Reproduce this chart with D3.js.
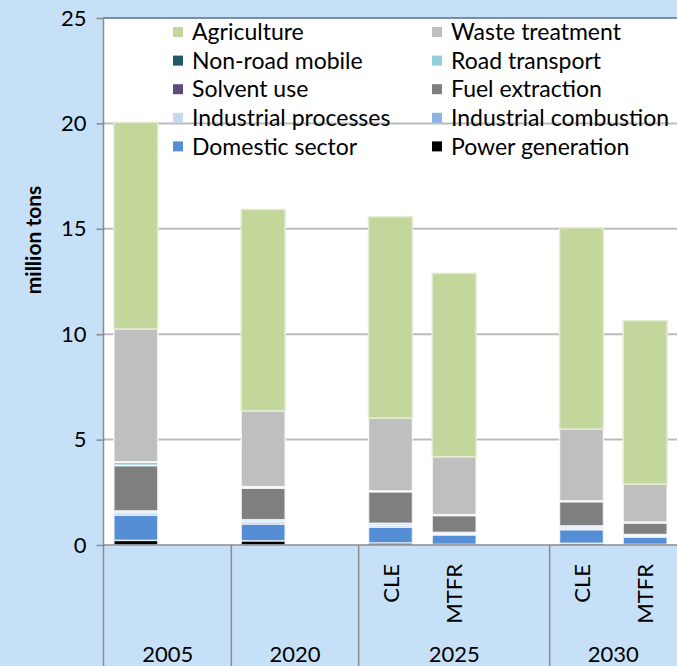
<!DOCTYPE html>
<html><head><meta charset="utf-8">
<script src="https://cdn.jsdelivr.net/npm/d3@7"></script>
<style>
html,body{margin:0;padding:0;background:#c6e0f8;}
svg{display:block;}
text{font-family:"Lato","Open Sans",sans-serif;fill:#000;}
</style></head>
<body><svg id="c" width="677" height="666"></svg>
<script>
// ---- data ----
const slotYears = ["2005","2005","2020","2020","2025","2025","2025","2030","2030"];
const slotScenarios = ["","","","","CLE","MTFR","","CLE","MTFR"];
const seriesNames = ["Power generation","Domestic sector","Industrial combustion","Industrial processes","Fuel extraction","Solvent use","Road transport","Non-road mobile","Waste treatment","Agriculture"];
const seriesColors = ["#000000","#558ed5","#8db3e2","#c6d9f1","#7f7f7f","#604a7b","#92cddc","#215967","#bfbfbf","#c3d69b"];
const powerGeneration     = [0.22,null,0.20,null,0.10,0.03,null,0.08,0.03];
const domesticSector      = [1.20,null,0.80,null,0.75,0.45,null,0.65,0.35];
const industrialCombustion= [0.10,null,0.10,null,0.08,0.05,null,0.08,0.05];
const industrialProcesses = [0.10,null,0.10,null,0.10,0.07,null,0.10,0.07];
const fuelExtraction      = [2.15,null,1.50,null,1.50,0.80,null,1.15,0.55];
const solventUse          = [0.01,null,0.01,null,0.01,0.01,null,0.01,0.01];
const roadTransport       = [0.15,null,0.05,null,0.02,0.02,null,0.02,0.02];
const nonRoadMobile       = [0.02,null,0.01,null,0.01,0.01,null,0.01,0.01];
const wasteTreatment      = [6.30,null,3.60,null,3.45,2.75,null,3.40,1.80];
const agriculture         = [9.80,null,9.55,null,9.55,8.70,null,9.55,7.75];
const yTicks = [0,5,10,15,20,25];
const yTitle = "million tons";

const seriesValues = [powerGeneration,domesticSector,industrialCombustion,industrialProcesses,fuelExtraction,solventUse,roadTransport,nonRoadMobile,wasteTreatment,agriculture];

// ---- layout ----
const svg = d3.select("#c");
const L=104, R=677, T=18, B=545, H=666;
const rows = slotYears.map((yr,i)=>{const o={slot:i,empty:seriesValues[0][i]==null};seriesNames.forEach((n,k)=>o[n]=seriesValues[k][i]||0);return o;});
const x = d3.scaleBand().domain(d3.range(slotYears.length)).range([L,R]).paddingInner(0.31).paddingOuter(0.155);
const y = d3.scaleLinear().domain([0,25]).range([B,T]);
const color = d3.scaleOrdinal(seriesNames, seriesColors);

svg.append("rect").attr("x",0).attr("y",0).attr("width",677).attr("height",H).attr("fill","#c6e0f8");
svg.append("rect").attr("x",L).attr("y",T).attr("width",R-L).attr("height",B-T).attr("fill","#fff");

// gridlines
svg.append("g").selectAll("line").data(yTicks.filter(t=>t>0&&t<25)).join("line")
  .attr("x1",L).attr("x2",R).attr("y1",d=>y(d)).attr("y2",d=>y(d))
  .attr("stroke","#bcbcbc").attr("stroke-width",2);

// bars
const stack = d3.stack().keys(seriesNames);
const layers = stack(rows);
svg.append("g").selectAll("g").data(layers).join("g").attr("fill",d=>color(d.key))
  .attr("stroke",d=>d.key==="Agriculture"?"#e4edd2":"rgba(255,255,255,0.75)").attr("stroke-width",1.5)
  .selectAll("rect").data(d=>d.filter(p=>!p.data.empty && p[1]-p[0]>0)).join("rect")
  .attr("x",d=>x(d.data.slot)).attr("width",x.bandwidth())
  .attr("y",d=>y(d[1])).attr("height",d=>Math.max(0,y(d[0])-y(d[1])));

// top border
svg.append("line").attr("x1",L-1).attr("x2",R).attr("y1",T).attr("y2",T).attr("stroke","#4f6f98").attr("stroke-width",1.5);

// y axis
const yAxis = svg.append("g").attr("transform",`translate(${L-0.5},0)`)
  .call(d3.axisLeft(y).tickValues(yTicks).tickSize(7).tickPadding(10).tickFormat(d3.format("d")));
yAxis.select(".domain").remove();
yAxis.selectAll(".tick line").attr("stroke","#8c8c8c").attr("stroke-width",1.5);
yAxis.selectAll(".tick text").attr("font-size",22).attr("font-family","Lato").attr("fill","#000");
svg.append("line").attr("x1",L-0.5).attr("x2",L-0.5).attr("y1",T).attr("y2",H).attr("stroke","#8c8c8c").attr("stroke-width",1.5);

// x axis line
svg.append("line").attr("x1",L-0.5).attr("x2",R).attr("y1",B).attr("y2",B).attr("stroke","#8c8c8c").attr("stroke-width",1.5);

// category group separators & labels
const yearGroups = d3.groups(d3.range(slotYears.length), i=>slotYears[i]);
const step = x.step();
yearGroups.forEach(([yr,idx],gi)=>{
  const x0 = x(idx[0]) - step*x.paddingInner()/2;
  const x1 = x(idx[idx.length-1]) + x.bandwidth() + step*x.paddingInner()/2;
  const a = gi===0 ? L : x0, b = gi===yearGroups.length-1 ? R : x1;
  if(gi>0) svg.append("line").attr("x1",a).attr("x2",a).attr("y1",B).attr("y2",H).attr("stroke","#8c8c8c").attr("stroke-width",1.5);
  svg.append("text").attr("x",(a+b)/2).attr("y",662).attr("text-anchor","middle").attr("font-size",22).text(yr);
});
slotScenarios.forEach((s,i)=>{
  if(!s) return;
  const cx = x(i)+x.bandwidth()/2;
  svg.append("text").attr("transform",`translate(${cx+8},564) rotate(-90)`).attr("text-anchor","end").attr("font-size",22).text(s);
});

// y title
svg.append("text").attr("transform","translate(41,240) rotate(-90)").attr("text-anchor","middle")
  .attr("font-size",21).attr("font-weight","bold").text(yTitle);

// legend (reverse order, 2 columns)
const legendItems = seriesNames.slice().reverse();
const lg = svg.append("g");
legendItems.forEach((n,i)=>{
  const col=i%2, row=Math.floor(i/2);
  const lx = col===0?173:432, ly = 32 + row*28.6;
  lg.append("rect").attr("x",lx).attr("y",ly-5).attr("width",10).attr("height",10).attr("fill",color(n));
  lg.append("text").attr("x",lx+19).attr("y",ly).attr("dy","0.36em").attr("font-size",23).text(n);
});
</script></body></html>
